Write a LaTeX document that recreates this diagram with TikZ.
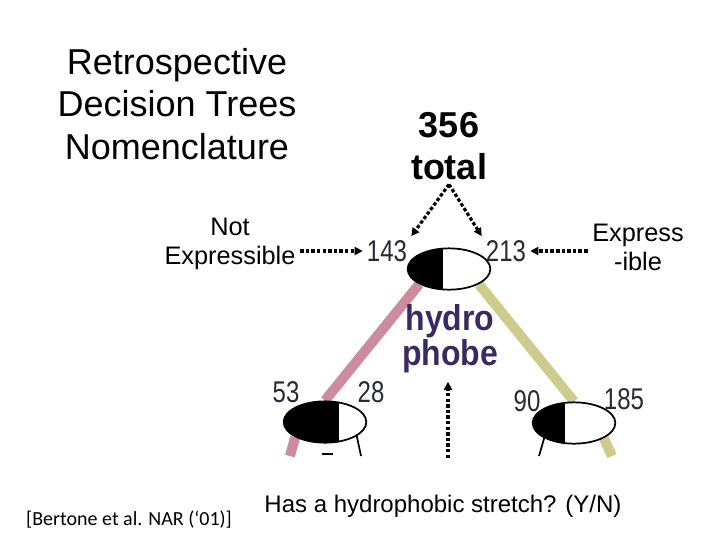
\documentclass[tikz,border=0pt]{standalone}
\usepackage{fontspec}
\setmainfont{Liberation Sans}
\newfontfamily\citefont{Carlito}
\usetikzlibrary{shapes.geometric,calc,arrows.meta,backgrounds}

\definecolor{pinkbranch}{RGB}{204,140,158}
\definecolor{yellowbranch}{RGB}{206,204,140}
\definecolor{hydroblue}{RGB}{58,42,98}
\definecolor{countgray}{RGB}{40,40,55}

\newcommand{\tallnum}[1]{\scalebox{1}[1.25]{#1}}

\tikzset{
  counts/.style={ellipse, draw, fill=white, line width=1.3pt,
    minimum width=62pt, minimum height=31pt, inner sep=0pt,
    path picture={\fill[black] ($(path picture bounding box.south west)!#1!(path picture bounding box.south east)$)
      rectangle (path picture bounding box.north west);}},
  countnum/.style={text=countgray, inner sep=3pt, font=\fontsize{18}{20}\selectfont},
  pointer/.style={line width=2.4pt, dash pattern=on 2.6pt off 1.6pt,
    -{Triangle[length=6pt,width=6pt]}},
  branch/.style={line width=7.5pt},
  stub/.style={line width=1.3pt},
}

\begin{document}
\begin{tikzpicture}[x=0.75pt,y=-0.75pt]
  \useasboundingbox (0,0) rectangle (720,540);

  \node[font=\fontsize{27}{32}\selectfont, align=center] (title) at (177,104)
    {Retrospective\\Decision Trees\\Nomenclature};
  \node[font=\fontsize{27}{31.5}\selectfont\bfseries, align=center] (total) at (449,146)
    {356\\total};
  \node[font=\fontsize{19}{21.75}\selectfont, align=center] (notexpr) at (230,244)
    {Not\\Expressible};
  \node[font=\fontsize{19}{21.75}\selectfont, align=center] (expr) at (638,247)
    {Express\\-ible};

  \node[counts=0.43] (root) at (449,269) {};
  \node[counts=0.67] (left) at (325,422) {};
  \node[counts=0.39] (right) at (574,423) {};

  \node[countnum] (n143) at (387,251) {\tallnum{143}};
  \node[countnum] (n213) at (506,251) {\tallnum{213}};
  \node[countnum] (n53) at (286,392) {\tallnum{53}};
  \node[countnum] (n28) at (371,392) {\tallnum{28}};
  \node[countnum] (n90) at (527,401) {\tallnum{90}};
  \node[countnum] (n185) at (624,399) {\tallnum{185}};

  \node[text=hydroblue, font=\fontsize{24}{21}\selectfont\bfseries, align=center] (hydro)
    at (450,339) {\scalebox{1}[1.12]{hydro}\\\scalebox{1}[1.12]{phobe}};

  \coordinate (leftend) at (290,456);
  \coordinate (rightend) at (612,456);
  \coordinate (leftstub) at (361,456);
  \coordinate (rightstub) at (539,456);
  \coordinate (stem) at (448,458);

  \begin{scope}[on background layer]
    \draw[branch, pinkbranch] (root.south west) -- (left.north);
    \draw[branch, pinkbranch] (left.south west) -- (leftend);
    \draw[branch, yellowbranch] (root.south east) -- (right.north);
    \draw[branch, yellowbranch] (right.south east) -- (rightend);
  \end{scope}
  \draw[stub] (left.-24) -- (leftstub);
  \draw[stub] (right.-153) -- (rightstub);
  \draw[line width=1.5pt] (322,454) -- (333,454);

  \draw[pointer] (notexpr.east |- n143) -- (n143.west);
  \draw[pointer] (expr.west |- n213) -- (n213.east);
  \draw[pointer] (total.south) -- (n143.north east);
  \draw[pointer] (total.south) -- (n213.north west);
  \draw[pointer] (stem) -- ([yshift=-3pt]stem |- hydro.south);

  \node[font=\fontsize{18}{20}\selectfont] (question) at (443,506)
    {Has a hydrophobic stretch? (Y/N)};
  \node[font=\citefont\fontsize{15}{17}\selectfont] (cite) at (129,520)
    {[Bertone et al. NAR (‘01)]};
\end{tikzpicture}
\end{document}
